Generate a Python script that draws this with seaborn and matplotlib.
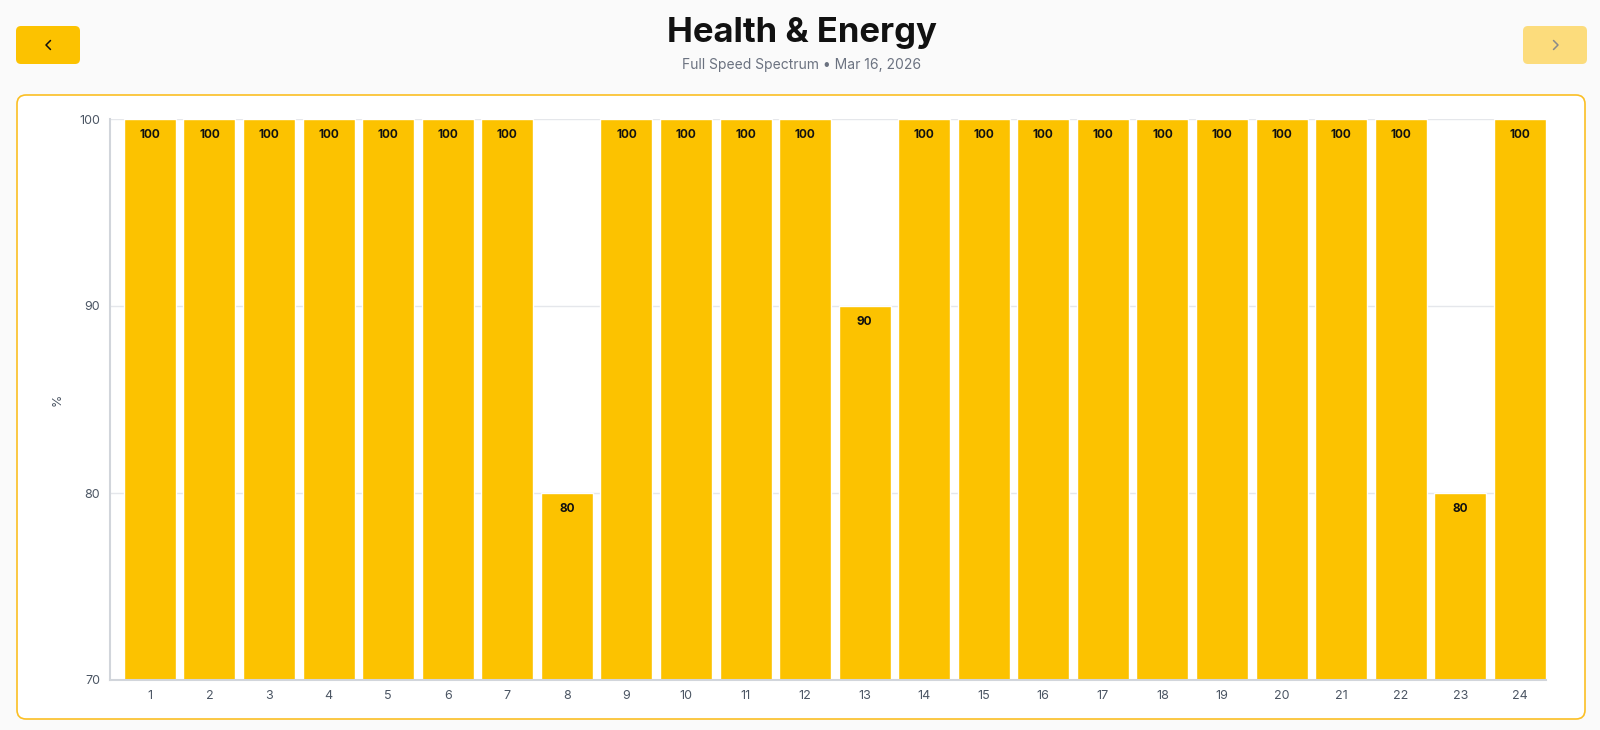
import matplotlib.pyplot as plt
import pandas as pd
import seaborn as sns
from matplotlib.lines import Line2D
from matplotlib.patches import FancyBboxPatch

# hourly values
hours = ['1', '2', '3', '4', '5', '6', '7', '8', '9', '10', '11', '12',
         '13', '14', '15', '16', '17', '18', '19', '20', '21', '22', '23', '24']
values = [100, 100, 100, 100, 100, 100, 100, 80, 100, 100, 100, 100,
          90, 100, 100, 100, 100, 100, 100, 100, 100, 100, 80, 100]
y_ticks = [70, 80, 90, 100]

title = 'Health & Energy'
subtitle = 'Full Speed Spectrum \u2022 Mar 16, 2026'

df = pd.DataFrame({'hour': hours, 'value': values})

sns.set_theme(style='white')
plt.rcParams['font.family'] = ['Inter', 'DejaVu Sans']

BAR = '#FCC200'
GRID = '#e5e7eb'
TICK = '#4b5563'

fig = plt.figure(figsize=(16, 7.3), dpi=100, facecolor='#fafafa')

# card + buttons, drawn in pixel coords
card = FancyBboxPatch((17, 11), 1568, 624, boxstyle='round,pad=0,rounding_size=9',
                      facecolor='white', edgecolor='#FBBF24', linewidth=1.2,
                      transform=None, zorder=-5)
fig.add_artist(card)
back_btn = FancyBboxPatch((16, 666), 64, 38, boxstyle='round,pad=0,rounding_size=5',
                          facecolor=BAR, edgecolor='none', transform=None, zorder=-5)
fig.add_artist(back_btn)
next_btn = FancyBboxPatch((1523, 666), 64, 38, boxstyle='round,pad=0,rounding_size=5',
                          facecolor='#FCDC7C', edgecolor='none', transform=None, zorder=-5)
fig.add_artist(next_btn)
fig.add_artist(Line2D([50.5, 46, 50.5], [689.5, 685, 680.5], color='#111111',
                      linewidth=1.1, transform=None))
fig.add_artist(Line2D([1553.5, 1558, 1553.5], [689.5, 685, 680.5], color='#8a8a8a',
                      linewidth=1.1, transform=None))

fig.text(0.50125, 1 - 33 / 730, title, ha='center', va='center',
         fontsize=25, fontweight='bold', color='#111111')
fig.text(0.50125, 1 - 65 / 730, subtitle, ha='center', va='center',
         fontsize=10, color='#6b7280')

ax = fig.add_axes([110 / 1600, 50 / 730, 1436 / 1600, 561 / 730])
ax.set_facecolor('none')
sns.barplot(data=df, x='hour', y='value', color=BAR, saturation=1,
            width=0.873, ax=ax)

ax.set_ylim(70, 100)
ax.set_yticks(y_ticks)
ax.set_xlim(-0.67, 23.44)
ax.yaxis.grid(True, color=GRID, linewidth=1)
ax.set_axisbelow(True)
for s in ['top', 'right']:
    ax.spines[s].set_visible(False)
for s in ['left', 'bottom']:
    ax.spines[s].set_color('#d1d5db')
    ax.spines[s].set_linewidth(1.5)
ax.tick_params(axis='both', length=0, labelsize=9, labelcolor=TICK)
ax.tick_params(axis='y', pad=7)
ax.tick_params(axis='x', pad=7)
ax.set_xlabel('')
ax.set_ylabel('%', fontsize=9, color=TICK)
ax.yaxis.set_label_coords(-46 / 1436, 0.5)

for bar, v in zip(ax.patches, values):
    ax.annotate(str(v), (bar.get_x() + bar.get_width() / 2, v),
                xytext=(0, -11.5), textcoords='offset points',
                ha='center', va='center', fontsize=8.5, fontweight='bold',
                color='#111111')

plt.savefig('out.png', dpi=100, facecolor=fig.get_facecolor())
